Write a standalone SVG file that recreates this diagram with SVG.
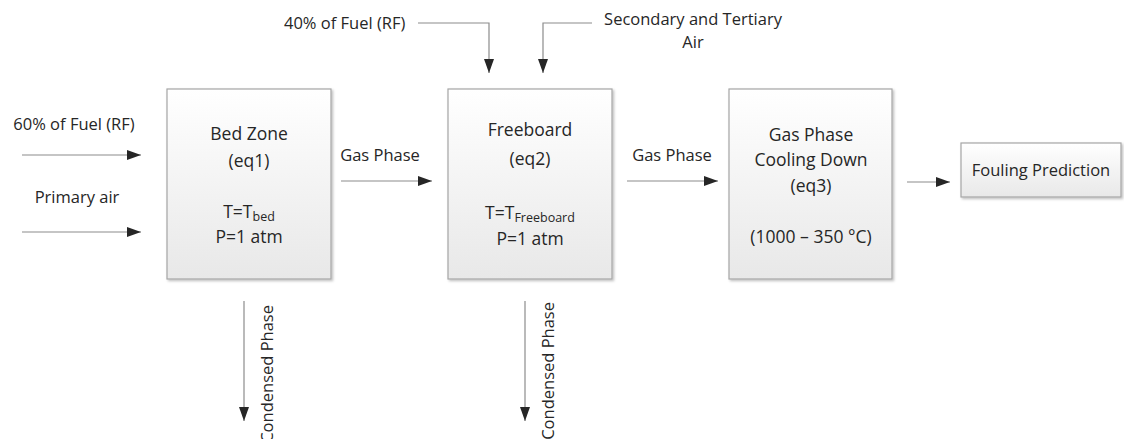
<svg xmlns="http://www.w3.org/2000/svg" width="1124" height="439" viewBox="0 0 1124 439">
<style>
text{font-family:"Open Sans","Liberation Sans",sans-serif;fill:#262626;}
.box{fill:url(#g);stroke:#a6a6a6;stroke-width:1.2;filter:url(#sh);}
.bt{font-size:17.5px;text-anchor:middle;}
.lb{font-size:16.5px;}
.c{text-anchor:middle;}
.ln{fill:none;stroke:#8c8c8c;stroke-width:1.2;marker-end:url(#ah);}
</style>
<defs>
<linearGradient id="g" x1="0" y1="0" x2="0" y2="1">
<stop offset="0" stop-color="#ffffff"/>
<stop offset="1" stop-color="#e8e8e8"/>
</linearGradient>
<filter id="sh" x="-10%" y="-10%" width="130%" height="130%">
<feDropShadow dx="1.5" dy="1.5" stdDeviation="1" flood-color="#000" flood-opacity="0.25"/>
</filter>
<marker id="ah" markerWidth="14" markerHeight="10" refX="14" refY="5" orient="auto" markerUnits="userSpaceOnUse">
<path d="M0,0 L14,5 L0,10 Z" fill="#262626"/>
</marker>
</defs>
<g id="connectors">
<line class="ln" x1="22" y1="155" x2="141" y2="155"/>
<line class="ln" x1="22" y1="232" x2="141" y2="232"/>
<line class="ln" x1="341" y1="181" x2="432" y2="181"/>
<line class="ln" x1="627" y1="181" x2="718" y2="181"/>
<line class="ln" x1="907" y1="182" x2="950" y2="182"/>
<polyline class="ln" points="418,23 489,23 489,73"/>
<polyline class="ln" points="592,23 543,23 543,73"/>
<line class="ln" x1="244" y1="301" x2="244" y2="421"/>
<line class="ln" x1="525" y1="301" x2="525" y2="421"/>
</g>
<g id="labels">
<text class="lb c" x="74" y="130">60% of Fuel (RF)</text>
<text class="lb c" x="77" y="203">Primary air</text>
<text class="lb c" x="380" y="161">Gas Phase</text>
<text class="lb c" x="672" y="161">Gas Phase</text>
<text class="lb" x="284" y="29">40% of Fuel (RF)</text>
<text class="lb c" x="693" y="25">Secondary and Tertiary</text>
<text class="lb c" x="693" y="48">Air</text>
<text class="lb" transform="translate(273,305) rotate(-90)" text-anchor="end">Condensed Phase</text>
<text class="lb" transform="translate(554,302) rotate(-90)" text-anchor="end">Condensed Phase</text>
</g>
<g id="bed">
<rect class="box" x="167" y="89" width="164" height="190"/>
<text class="bt" x="249" y="140">Bed Zone</text>
<text class="bt" x="249" y="167">(eq1)</text>
<text class="bt" x="249" y="218">T=T<tspan font-size="12.5" dy="3">bed</tspan></text>
<text class="bt" x="249" y="243">P=1 atm</text>
</g>
<g id="freeboard">
<rect class="box" x="448" y="89" width="164" height="190"/>
<text class="bt" x="530" y="136">Freeboard</text>
<text class="bt" x="530" y="165">(eq2)</text>
<text class="bt" x="530" y="219">T=T<tspan font-size="12.5" dy="3">Freeboard</tspan></text>
<text class="bt" x="530" y="245">P=1 atm</text>
</g>
<g id="cooling">
<rect class="box" x="729" y="89" width="163" height="190"/>
<text class="bt" x="811" y="141">Gas Phase</text>
<text class="bt" x="811" y="166">Cooling Down</text>
<text class="bt" x="811" y="192">(eq3)</text>
<text class="bt" x="811" y="243">(1000 – 350 °C)</text>
</g>
<g id="fouling">
<rect class="box" x="961" y="143" width="160" height="54"/>
<text class="lb c" x="1041" y="176">Fouling Prediction</text>
</g>
</svg>
